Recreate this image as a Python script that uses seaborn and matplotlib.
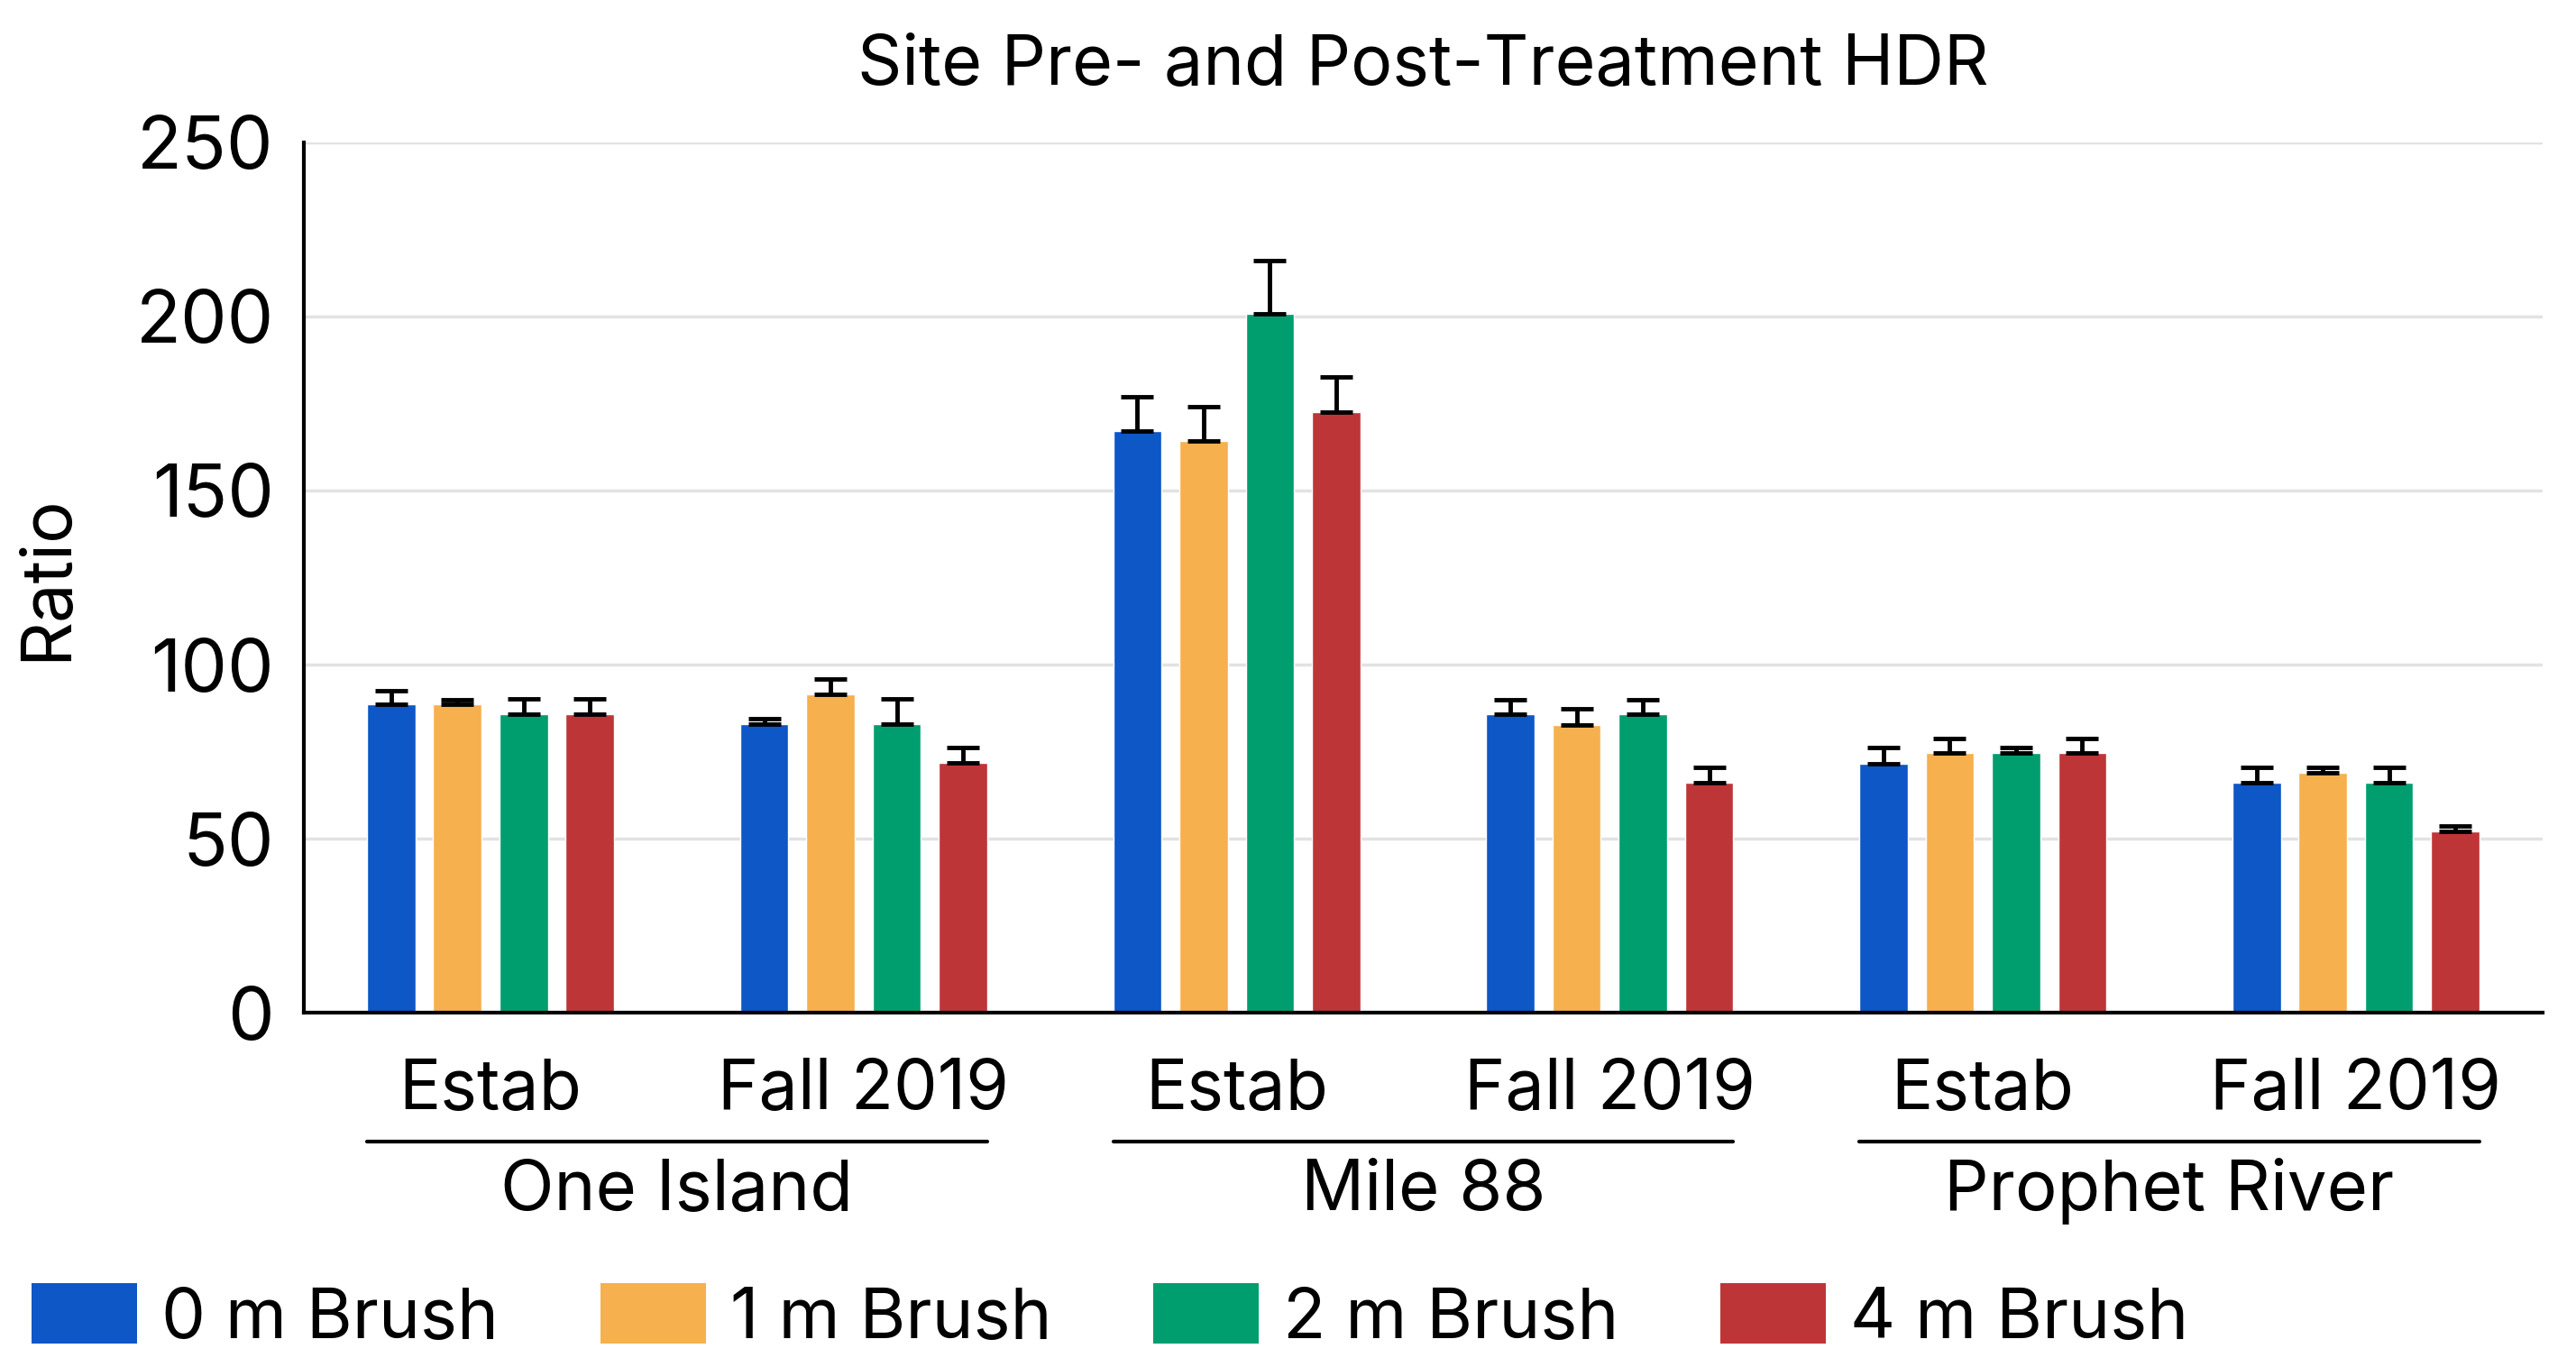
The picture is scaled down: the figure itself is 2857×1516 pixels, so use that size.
import numpy as np
import pandas as pd
import seaborn as sns
import matplotlib.pyplot as plt
from matplotlib.patches import Patch
from matplotlib.transforms import blended_transform_factory

# Values
sites = ["One Island", "One Island", "Mile 88", "Mile 88", "Prophet River", "Prophet River"]
periods = ["Estab", "Fall 2019", "Estab", "Fall 2019", "Estab", "Fall 2019"]
brush_levels = ["0 m Brush", "1 m Brush", "2 m Brush", "4 m Brush"]

hdr_0m = [88.7, 83.0, 167.1, 85.7, 71.5, 66.2]
hdr_1m = [88.7, 91.4, 164.2, 82.8, 74.6, 69.0]
hdr_2m = [85.7, 83.0, 200.7, 85.7, 74.6, 66.2]
hdr_4m = [85.7, 71.7, 172.5, 66.2, 74.6, 52.1]

err_0m = [3.9, 1.4, 9.7, 4.3, 4.6, 4.3]
err_1m = [1.3, 4.4, 9.8, 4.5, 4.1, 1.5]
err_2m = [4.4, 7.1, 15.4, 4.3, 1.5, 4.3]
err_4m = [4.4, 4.4, 10.0, 4.3, 4.1, 1.5]

colors = ["#0D57C7", "#F7B04E", "#009E6E", "#BE3538"]

values = [hdr_0m, hdr_1m, hdr_2m, hdr_4m]
errors = [err_0m, err_1m, err_2m, err_4m]

slots = [f"{s}|{p}" for s, p in zip(sites, periods)]
rows = []
for b, vals in zip(brush_levels, values):
    for slot, v in zip(slots, vals):
        rows.append({"slot": slot, "brush": b, "ratio": v})
df = pd.DataFrame(rows)

sns.set_style("white")
plt.rcParams["font.family"] = ["Inter", "DejaVu Sans"]
plt.rcParams["text.color"] = "black"
plt.rcParams["axes.labelcolor"] = "black"
plt.rcParams["xtick.color"] = "black"
plt.rcParams["ytick.color"] = "black"

fig = plt.figure(figsize=(28.57, 15.16), dpi=100)
ax = fig.add_axes([0.118, 0.259, 0.869, 0.637])

sns.barplot(data=df, x="slot", y="ratio", hue="brush", order=slots,
            hue_order=brush_levels, palette=colors, width=0.71, gap=0.27,
            errorbar=None, saturation=1, legend=False, ax=ax, zorder=2)

bar_groups = list(ax.containers)
all_patches = [p for c in bar_groups for p in c.patches]

# one-sided error bars on top of each bar
for cont, errs in zip(bar_groups, errors):
    xs = [p.get_x() + p.get_width() / 2 for p in cont.patches]
    hs = [p.get_height() for p in cont.patches]
    ax.errorbar(xs, hs, yerr=[np.zeros(len(errs)), errs], fmt="none",
                ecolor="black", elinewidth=3.5, capsize=13, capthick=3.5, zorder=3)

ax.set_ylim(0, 250)
ax.set_xlim(-0.5, 5.5)
ax.set_yticks([0, 50, 100, 150, 200, 250])
ax.yaxis.grid(True, color="#e2e2e2", linewidth=2.5, zorder=0)
ax.set_axisbelow(True)
for side in ["top", "right"]:
    ax.spines[side].set_visible(False)
for side in ["left", "bottom"]:
    ax.spines[side].set_color("black")
    ax.spines[side].set_linewidth(3)

ax.tick_params(axis="y", length=16, width=3, labelsize=59, pad=8)
ax.set_xticks(range(len(slots)))
ax.set_xticklabels(periods)
ax.tick_params(axis="x", length=0, labelsize=55.5, pad=36)
ax.set_xlabel("")
ax.set_ylabel("Ratio", fontsize=56, labelpad=44)
ax.set_title("Site Pre- and Post-Treatment HDR", fontsize=55.5, pad=46)

# site group lines and names below the period labels
trans = blended_transform_factory(ax.transData, ax.transAxes)
for site in ["One Island", "Mile 88", "Prophet River"]:
    idx = [i for i, s in enumerate(sites) if s == site]
    members = [p for p in all_patches if round(p.get_x() + p.get_width() / 2) in idx]
    left = min(p.get_x() for p in members)
    right = max(p.get_x() + p.get_width() for p in members)
    ax.plot([left, right], [-0.148, -0.148], color="black", linewidth=3,
            transform=trans, clip_on=False)
    ax.text((left + right) / 2, -0.205, site, transform=trans, ha="center",
            va="center", fontsize=56)

handles = [Patch(facecolor=c, edgecolor="none") for c in colors]
fig.legend(handles, brush_levels, ncol=4, loc="lower left",
           bbox_to_anchor=(-0.004, -0.02), frameon=False, fontsize=56,
           handlelength=1.5, handleheight=0.95, handletextpad=0.35,
           columnspacing=1.45, borderaxespad=0.2)

fig.savefig("out.png", dpi=100)
